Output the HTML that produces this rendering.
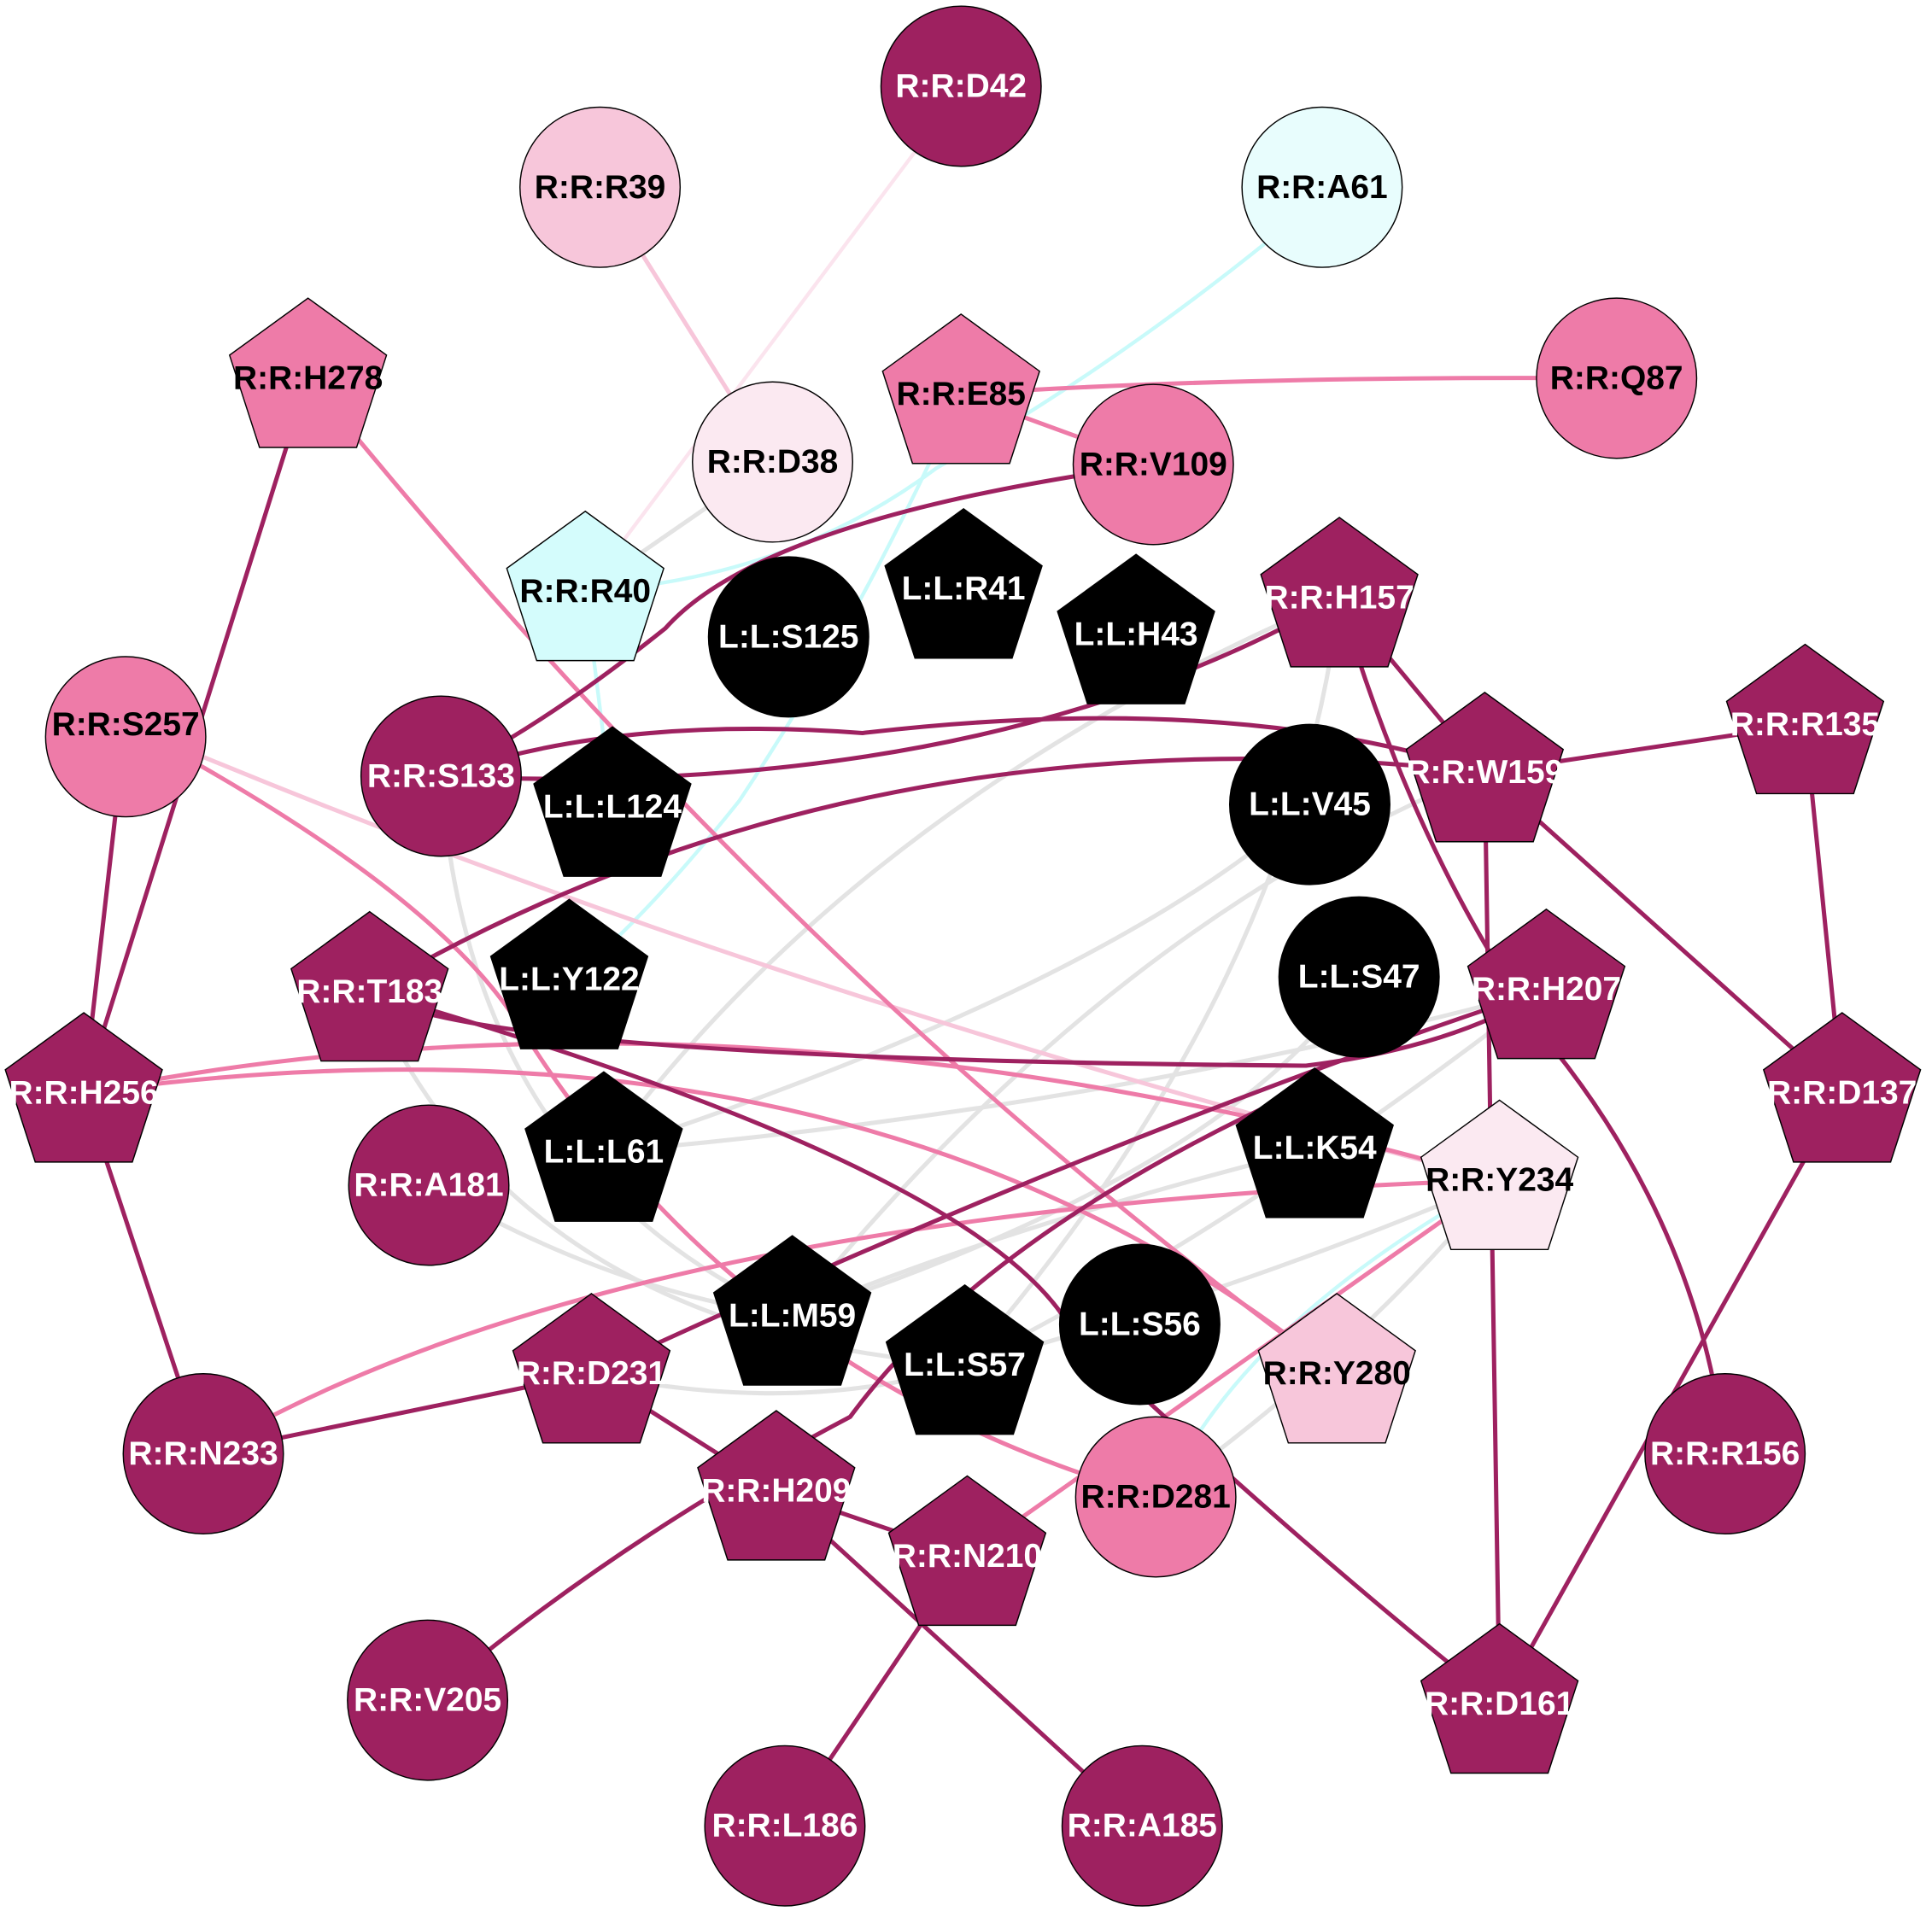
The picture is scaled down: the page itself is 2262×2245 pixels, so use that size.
<!DOCTYPE html>
<html><head><meta charset="utf-8"><style>
html,body{margin:0;padding:0;background:#fff;}
svg{display:block;}
text{font-family:"Liberation Sans",Arial,sans-serif;font-weight:bold;font-size:27px;text-anchor:middle;dominant-baseline:central;}
</style></head><body>
<svg width="2262" height="2245" viewBox="0 0 1568 1556" preserveAspectRatio="none" xmlns="http://www.w3.org/2000/svg">
<g fill="none" stroke-linecap="round">
<g stroke="#e3e3e3" stroke-width="3.5">
<path d="M475,480 L627,375"/>
<path d="M1087,485 Q700,650 490,935"/>
<path d="M1087,485 Q1050,800 783,1108"/>
<path d="M1205,627 Q900,750 643,1068"/>
<path d="M1255,803 Q900,900 490,935"/>
<path d="M1255,803 Q1000,1000 783,1108"/>
<path d="M1067,932 Q800,1000 643,1068"/>
<path d="M358,630 Q380,950 643,1068"/>
<path d="M300,805 Q420,1080 783,1108"/>
<path d="M348,962 Q500,1050 643,1068"/>
<path d="M480,1115 Q650,1150 783,1108"/>
<path d="M1217,958 Q1100,1100 938,1215"/>
<path d="M1063,653 Q900,800 490,935"/>
<path d="M1103,793 Q1000,950 643,1068"/>
<path d="M1217,958 Q1000,1050 783,1108"/>
</g>
<g stroke="#c8fafa" stroke-width="3">
<path d="M1030,195 Q900,300 760,380 Q640,470 475,480"/>
<path d="M780,320 Q700,500 600,650 Q520,750 462,795"/>
<path d="M475,480 L497,655"/>
<path d="M1217,958 Q1050,1050 975,1160"/>
</g>
<path d="M487,152 L627,375" stroke="#f7c6da" stroke-width="3.5"/>
<path d="M745,120 L505,440" stroke="#fbe4ee" stroke-width="3"/>
<path d="M102,588 Q600,800 1217,958" stroke="#f7c6da" stroke-width="3.5"/>
<g stroke="#ee7ba8" stroke-width="3.5">
<path d="M780,320 Q1000,305 1312,307"/>
<path d="M780,320 L936,377"/>
<path d="M250,307 Q650,800 1085,1115"/>
<path d="M102,588 Q350,720 420,830 Q600,1120 938,1215"/>
<path d="M68,887 Q600,780 1217,958"/>
<path d="M68,887 Q700,800 1085,1115"/>
<path d="M165,1180 Q500,980 1217,958"/>
<path d="M1217,958 L785,1263"/>
</g>
<g stroke="#9e2160" stroke-width="3.5">
<path d="M250,307 L68,887"/>
<path d="M102,588 L68,887"/>
<path d="M68,887 L165,1180"/>
<path d="M165,1180 L480,1115"/>
<path d="M480,1115 L630,1210"/>
<path d="M630,1210 L785,1263"/>
<path d="M630,1210 L927,1482"/>
<path d="M785,1263 L637,1482"/>
<path d="M936,377 Q620,420 540,510 Q440,590 358,630"/>
<path d="M358,630 Q500,580 700,595 Q1000,560 1205,627"/>
<path d="M358,630 Q800,650 1087,485"/>
<path d="M300,805 Q700,570 1205,627"/>
<path d="M300,805 Q380,860 1060,865 Q1180,850 1255,803"/>
<path d="M300,805 Q800,950 870,1080 Q1050,1250 1217,1383"/>
<path d="M1255,803 Q900,920 480,1115"/>
<path d="M1067,880 Q800,1000 690,1150 Q500,1250 347,1380"/>
<path d="M1087,485 L1205,627"/>
<path d="M1087,485 Q1150,700 1260,850 Q1380,1000 1400,1180"/>
<path d="M1205,627 L1465,588"/>
<path d="M1205,627 L1495,887"/>
<path d="M1205,627 L1217,1383"/>
<path d="M1465,588 L1495,887"/>
<path d="M1495,887 L1217,1383"/>
</g>
</g>
<g stroke="#000" stroke-width="1">
<circle cx="780" cy="70" r="65" fill="#9e2160"/>
<circle cx="487" cy="152" r="65" fill="#f7c6da"/>
<circle cx="1073" cy="152" r="65" fill="#e8fdfd"/>
<circle cx="1312" cy="307" r="65" fill="#ee7ba8"/>
<circle cx="627" cy="375" r="65" fill="#fbe9f1"/>
<circle cx="936" cy="377" r="65" fill="#ee7ba8"/>
<circle cx="640" cy="517" r="65" fill="#000"/>
<circle cx="102" cy="598" r="65" fill="#ee7ba8"/>
<circle cx="358" cy="630" r="65" fill="#9e2160"/>
<circle cx="1063" cy="653" r="65" fill="#000"/>
<circle cx="1103" cy="793" r="65" fill="#000"/>
<circle cx="348" cy="962" r="65" fill="#9e2160"/>
<circle cx="925" cy="1075" r="65" fill="#000"/>
<circle cx="165" cy="1180" r="65" fill="#9e2160"/>
<circle cx="938" cy="1215" r="65" fill="#ee7ba8"/>
<circle cx="1400" cy="1180" r="65" fill="#9e2160"/>
<circle cx="347" cy="1380" r="65" fill="#9e2160"/>
<circle cx="637" cy="1482" r="65" fill="#9e2160"/>
<circle cx="927" cy="1482" r="65" fill="#9e2160"/>
</g>
<g stroke="#000" stroke-width="1" id="pents"></g>
<g id="labels"></g>
<script>
var P=[["R:R:H278",250,307,"#ee7ba8",0],["R:R:E85",780,320,"#ee7ba8",0],["R:R:R40",475,480,"#d4fcfc",0],
["L:L:R41",782,478,"#000",1],["L:L:H43",922,515,"#000",1],["R:R:H157",1087,485,"#9e2160",1],["R:R:R135",1465,588,"#9e2160",1],
["R:R:W159",1205,627,"#9e2160",1],["L:L:L124",497,655,"#000",1],["L:L:Y122",462,795,"#000",1],["R:R:T183",300,805,"#9e2160",1],
["R:R:H207",1255,803,"#9e2160",1],["R:R:H256",68,887,"#9e2160",1],["R:R:D137",1495,887,"#9e2160",1],["L:L:L61",490,935,"#000",1],
["L:L:K54",1067,932,"#000",1],["R:R:Y234",1217,958,"#fbe9f1",0],["L:L:M59",643,1068,"#000",1],["L:L:S57",783,1108,"#000",1],
["R:R:D231",480,1115,"#9e2160",1],["R:R:Y280",1085,1115,"#f7c6da",0],["R:R:H209",630,1210,"#9e2160",1],["R:R:N210",785,1263,"#9e2160",1],
["R:R:D161",1217,1383,"#9e2160",1]];
var C=[["R:R:D42",780,70,1],["R:R:R39",487,152,0],["R:R:A61",1073,152,0],["R:R:Q87",1312,307,0],["R:R:D38",627,375,0],["R:R:V109",936,377,0],
["L:L:S125",640,517,1],["R:R:S257",102,588,0],["R:R:S133",358,630,1],["L:L:V45",1063,653,1],["L:L:S47",1103,793,1],["R:R:A181",348,962,1],
["L:L:S56",925,1075,1],["R:R:N233",165,1180,1],["R:R:D281",938,1215,0],["R:R:R156",1400,1180,1],["R:R:V205",347,1380,1],["R:R:L186",637,1482,1],["R:R:A185",927,1482,1]];
var ns="http://www.w3.org/2000/svg",pg=document.getElementById("pents"),lg=document.getElementById("labels");
function lab(t,x,y,w){var e=document.createElementNS(ns,"text");e.setAttribute("x",x);e.setAttribute("y",y);e.setAttribute("fill",w?"#fff":"#000");e.textContent=t;lg.appendChild(e);}
P.forEach(function(p){var R=67,cy=p[2]+2,pts=[];for(var i=0;i<5;i++){var a=-Math.PI/2+i*2*Math.PI/5;pts.push((p[1]+R*Math.cos(a)).toFixed(1)+","+(cy+R*Math.sin(a)).toFixed(1));}
var e=document.createElementNS(ns,"polygon");e.setAttribute("points",pts.join(" "));e.setAttribute("fill",p[3]);pg.appendChild(e);lab(p[0],p[1],p[2],p[4]);});
C.forEach(function(c){lab(c[0],c[1],c[2],c[3]);});
</script>
</svg>
</body></html>
